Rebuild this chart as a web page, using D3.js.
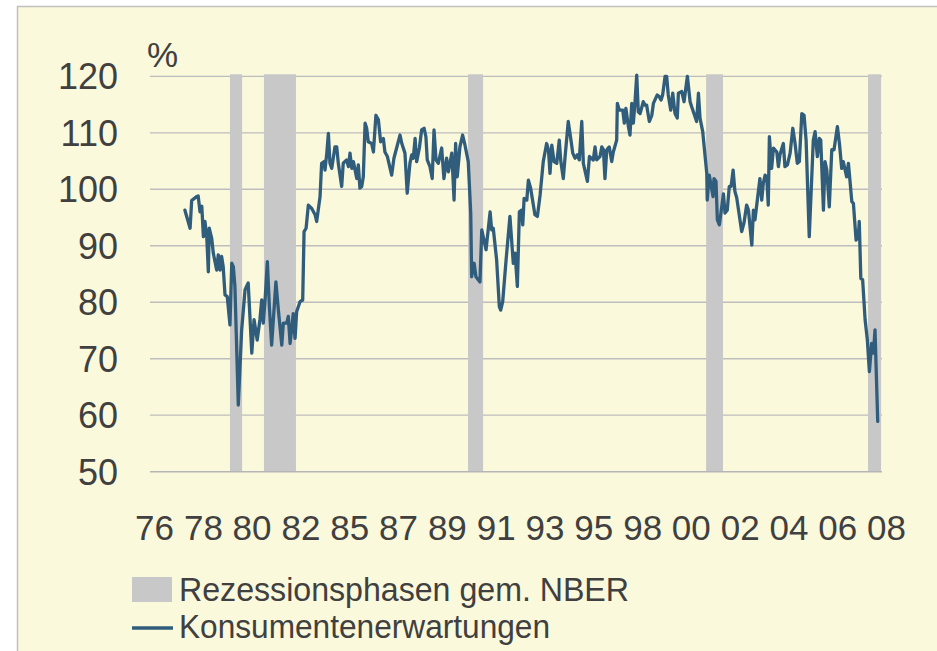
<!DOCTYPE html>
<html>
<head>
<meta charset="utf-8">
<script src="https://cdn.jsdelivr.net/npm/d3@7/dist/d3.min.js"></script>
<style>
  html, body { margin: 0; padding: 0; background: #ffffff; }
  svg { display: block; }
  text { font-family: "Liberation Sans", Arial, sans-serif; fill: #404040; }
</style>
</head>
<body>
<svg id="chart" width="937" height="651"></svg>
<script>
// ---- Data ----
const years = [
  1977.95,1978.18,1978.25,1978.47,1978.54,1978.62,1978.70,1978.77,1978.84,1978.92,1978.99,1979.03,1979.14,1979.21,1979.36,1979.43,1979.51,1979.58,1979.65,1979.73,1979.83,1979.95,
  1980.03,1980.10,1980.17,1980.32,1980.47,1980.62,1980.76,1980.92,1981.02,1981.16,1981.28,1981.36,1981.43,1981.51,1981.61,1981.70,1981.80,1981.99,
  1982.10,1982.25,1982.32,1982.47,1982.54,1982.62,1982.76,1982.84,1982.91,1983.06,1983.18,1983.24,1983.33,1983.43,1983.58,1983.73,1983.80,1983.95,
  1984.02,1984.13,1984.17,1984.25,1984.32,1984.39,1984.47,1984.61,1984.69,1984.76,1984.91,1984.98,1985.13,1985.21,1985.28,1985.36,1985.43,1985.58,1985.65,1985.72,1985.80,1985.87,1985.95,
  1986.02,1986.09,1986.24,1986.32,1986.43,1986.54,1986.64,1986.76,1986.83,1986.94,1987.13,1987.23,1987.35,1987.50,1987.58,1987.72,1987.82,1987.94,
  1988.02,1988.09,1988.17,1988.24,1988.36,1988.46,1988.57,1988.65,1988.71,1988.83,1988.93,1989.01,1989.10,1989.20,1989.35,1989.45,1989.57,1989.65,1989.80,1989.90,1989.97,
  1990.04,1990.11,1990.16,1990.28,1990.37,1990.53,1990.64,1990.68,1990.79,1990.87,1991.05,1991.13,1991.32,1991.50,1991.57,1991.64,1991.79,1991.91,1991.97,
  1992.06,1992.21,1992.38,1992.53,1992.61,1992.71,1992.80,1992.90,1992.95,1993.01,1993.13,1993.20,1993.30,1993.49,1993.60,1993.72,1993.86,
  1994.01,1994.09,1994.16,1994.24,1994.34,1994.46,1994.57,1994.64,1994.75,1994.83,1994.97,1995.08,1995.17,1995.27,1995.37,1995.46,1995.57,1995.64,1995.82,1995.91,
  1996.08,1996.16,1996.23,1996.38,1996.46,1996.53,1996.60,1996.68,1996.79,1996.90,1996.97,1997.12,1997.15,1997.24,1997.39,1997.46,1997.53,1997.64,1997.71,1997.79,1997.86,1997.93,
  1998.01,1998.08,1998.16,1998.30,1998.38,1998.45,1998.57,1998.68,1998.75,1998.92,1999.01,1999.09,1999.16,1999.27,1999.34,1999.41,1999.52,1999.61,1999.71,1999.81,1999.86,
  2000.01,2000.11,2000.20,2000.26,2000.38,2000.45,2000.67,2000.75,2000.82,2000.94,2001.04,2001.12,2001.14,2001.23,2001.40,2001.44,2001.53,2001.59,2001.68,2001.86,2001.93,
  2002.03,2002.12,2002.20,2002.29,2002.37,2002.45,2002.67,2002.77,2002.89,2002.97,2003.04,2003.12,2003.19,2003.26,2003.48,2003.56,2003.63,2003.71,2003.78,2003.85,2003.90,
  2004.00,2004.08,2004.23,2004.30,2004.37,2004.52,2004.59,2004.70,2004.82,2004.94,2005.04,2005.14,2005.23,2005.34,2005.44,2005.53,2005.67,2005.85,2005.93,
  2006.03,2006.12,2006.18,2006.30,2006.37,2006.45,2006.56,2006.67,2006.77,2006.92,2007.01,2007.11,2007.18,2007.33,2007.41,2007.56,2007.63,2007.75,2007.85,2007.89,2007.96,
  2008.04,2008.15,2008.25,2008.34,2008.44,2008.52,2008.59,2008.71
];
const expectations = [
  96.3,93.1,98.0,98.7,98.8,96.0,97.0,91.6,94.3,91.6,85.4,93.1,91.3,88.7,85.7,88.4,85.7,88.1,86.3,81.3,81.0,76.0,
  86.9,86.3,82.8,61.8,75.1,82.2,83.4,71.0,76.9,73.3,76.9,80.4,76.3,80.4,87.2,79.2,72.4,83.6,
  78.6,72.4,76.3,76.3,77.5,72.7,78.0,73.6,78.3,80.1,80.4,92.5,93.1,97.2,96.6,95.5,94.3,98.7,
  104.6,104.9,103.4,106.4,109.9,104.6,103.7,107.5,107.5,104.6,100.5,104.6,105.2,104.0,106.4,103.7,104.9,101.9,104.3,100.2,100.5,102.2,111.7,
  110.8,108.4,108.1,106.6,113.1,112.3,108.4,109.0,106.6,105.8,102.5,105.5,107.3,109.6,108.1,106.4,99.3,104.6,
  106.1,105.5,109.0,104.9,107.3,110.5,110.8,109.3,105.2,104.0,101.9,110.5,105.2,104.6,107.3,101.9,105.5,103.1,106.4,98.1,108.1,
  102.2,105.2,107.5,109.6,108.1,104.9,95.8,84.5,86.9,84.5,83.6,92.8,89.3,96.0,92.8,93.1,87.5,79.2,78.6,
  80.1,87.5,95.2,86.9,88.7,82.8,96.0,96.3,93.7,98.4,98.1,101.6,100.2,95.5,95.2,99.0,104.9,
  108.1,107.0,102.8,107.8,104.9,104.6,108.7,104.9,101.9,105.8,112.0,109.0,106.4,105.5,106.1,105.2,112.0,104.6,101.4,105.8,
  105.2,107.5,105.2,105.8,107.5,107.0,101.9,107.0,107.5,104.9,106.6,108.7,115.2,114.0,114.0,111.7,114.3,111.1,109.6,115.2,111.7,115.2,
  120.2,113.7,113.4,115.5,114.9,114.9,112.0,113.1,115.2,116.7,116.4,115.8,116.7,120.0,120.0,116.7,114.0,117.0,113.4,112.6,117.0,
  117.3,115.5,118.2,120.0,115.5,114.6,112.0,117.0,112.6,110.2,106.1,102.8,98.1,102.5,98.7,101.9,101.4,94.6,93.7,99.2,95.8,
  96.3,100.5,100.5,103.4,99.6,98.5,92.5,94.0,97.2,96.3,93.4,90.1,96.3,94.6,101.9,98.1,101.1,102.5,102.2,97.2,109.3,
  103.7,107.3,106.6,104.0,106.1,108.1,104.0,104.3,106.4,110.8,108.1,104.6,104.9,113.4,113.1,108.7,91.6,108.7,110.2,
  105.8,109.0,108.7,96.3,104.9,103.4,96.9,107.0,107.0,111.1,108.1,103.7,104.9,102.2,104.6,97.8,97.5,91.0,91.6,94.3,84.2,
  84.0,76.9,73.3,67.7,72.7,71.0,75.1,58.9
];
// NBER recession phases (start / end, decimal years)
const recessionStart = [1979.95, 1981.46, 1990.52, 2001.09, 2008.28];
const recessionEnd   = [1980.49, 1982.88, 1991.19, 2001.84, 2008.86];
// x-axis tick labels and their positions (decimal years)
const xTickLabels = ["76","78","80","82","85","87","89","91","93","95","98","00","02","04","06","08"];
const xTickYears  = [1976.58,1978.75,1980.91,1983.08,1985.25,1987.41,1989.58,1991.75,1993.91,1996.08,1998.25,2000.41,2002.58,2004.75,2006.91,2009.08];
const yTicks = [50, 60, 70, 80, 90, 100, 110, 120];
const legendLabels = ["Rezessionsphasen gem. NBER", "Konsumentenerwartungen"];

// ---- Drawing ----
const svg = d3.select("#chart");
const plotLeft = 150, plotRight = 882, plotTop = 76.3, plotBottom = 471.7;
const FONT = '"Liberation Sans", Arial, sans-serif';

svg.append("rect").attr("x", 17.5).attr("y", 6.5).attr("width", 940).attr("height", 660)
  .attr("fill", "#fbf9dc").attr("stroke", "#c0c0c0").attr("stroke-width", 1.5);

const x = d3.scaleLinear().domain([1976.4, 2008.9]).range([plotLeft, plotRight]);
const y = d3.scaleLinear().domain([50, 120]).range([plotBottom, plotTop]);

// gridlines
svg.append("g").selectAll("line").data(yTicks.filter(d => d > 50)).join("line")
  .attr("x1", plotLeft).attr("x2", plotRight)
  .attr("y1", d => y(d)).attr("y2", d => y(d))
  .attr("stroke", "#bdbdbd").attr("stroke-width", 1.3);

// recession bars
const rec = recessionStart.map((s, i) => ({ s, e: recessionEnd[i] }));
svg.append("g").selectAll("rect").data(rec).join("rect")
  .attr("x", d => x(d.s)).attr("width", d => x(d.e) - x(d.s))
  .attr("y", y(120) - 2).attr("height", y(50) - y(120) + 2)
  .attr("fill", "#c8c8c8");

// baseline axis
svg.append("line").attr("x1", plotLeft).attr("x2", plotRight)
  .attr("y1", y(50)).attr("y2", y(50))
  .attr("stroke", "#b5b5b5").attr("stroke-width", 1.5);

// line
const pts = years.map((yr, i) => ({ yr, v: expectations[i] }));
const line = d3.line().x(d => x(d.yr)).y(d => y(d.v));
svg.append("path").datum(pts).attr("d", line)
  .attr("fill", "none").attr("stroke", "#315d7c").attr("stroke-width", 3.3)
  .attr("stroke-linejoin", "round").attr("stroke-linecap", "round");

// y axis
const yAxis = d3.axisLeft(y).tickValues(yTicks).tickSize(0).tickPadding(0).tickFormat(d3.format("d"));
const gy = svg.append("g").attr("transform", "translate(118,0)").call(yAxis);
gy.select(".domain").remove();
gy.selectAll("text").attr("font-size", 36).attr("dy", "0.35em")
  .style("font-family", FONT).attr("fill", "#404040");

// x axis
const xAxis = d3.axisBottom(x).tickValues(xTickYears).tickSize(0).tickPadding(0)
  .tickFormat((d, i) => xTickLabels[i]);
const gx = svg.append("g").attr("transform", "translate(0,515)").call(xAxis);
gx.select(".domain").remove();
gx.selectAll("text").attr("font-size", 35).attr("dy", "0.71em")
  .style("font-family", FONT).attr("fill", "#404040");

// % label
svg.append("text").attr("x", 147).attr("y", 67).attr("font-size", 35).text("%");

// legend
svg.append("rect").attr("x", 132).attr("y", 577).attr("width", 40).attr("height", 25).attr("fill", "#c8c8c8");
svg.append("text").attr("x", 179).attr("y", 601).attr("font-size", 34)
  .attr("textLength", 450).attr("lengthAdjust", "spacingAndGlyphs").text(legendLabels[0]);
svg.append("line").attr("x1", 132).attr("x2", 173).attr("y1", 628).attr("y2", 628)
  .attr("stroke", "#315d7c").attr("stroke-width", 3.3);
svg.append("text").attr("x", 179).attr("y", 638).attr("font-size", 34)
  .attr("textLength", 371).attr("lengthAdjust", "spacingAndGlyphs").text(legendLabels[1]);
</script>
</body>
</html>
